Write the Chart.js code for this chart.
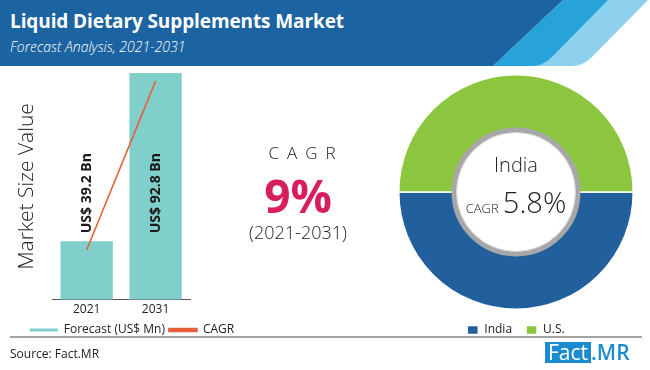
<!DOCTYPE html>
<html>
<head>
<meta charset="utf-8">
<script src="https://cdn.jsdelivr.net/npm/chart.js@4.4.0/dist/chart.umd.min.js"></script>
<style>
  html, body { margin: 0; padding: 0; background: #fff; }
  body { width: 650px; height: 370px; position: relative; overflow: hidden; font-family: "Open Sans", sans-serif; }
  #head { position: absolute; left: 0; top: 0; }
  .title { position: absolute; left: 10px; top: 8px; color: #fff; font: bold 19px "Open Sans", sans-serif; letter-spacing: -0.1px; }
  .subtitle { position: absolute; left: 10px; top: 37px; color: #fff; font: italic 300 14px "Open Sans", sans-serif; }
  #barBox { position: absolute; left: 0; top: 66px; width: 250px; height: 280px; }
  #pieBox { position: absolute; left: 396px; top: 74px; width: 240px; height: 272px; }
  .mid { position: absolute; left: 200px; width: 196px; text-align: center; color: #222; }
  .rule { position: absolute; left: 10px; top: 336px; width: 632px; height: 2px; background: #a3a3a3; }
  .source { position: absolute; left: 10px; top: 345px; font: 12px "Open Sans", sans-serif; color: #222; }
  .logo { position: absolute; left: 545px; top: 342px; height: 21px; font: 21px "Open Sans", sans-serif; line-height: 21px; }
  .logo .f { background: #1d8ccf; color: #fff; padding: 0 3px; display: inline-block; }
  .logo .m { color: #1d8ccf; font-weight: 600; }
  .inner { position: absolute; left: 456px; width: 120px; text-align: center; color: #222; }
</style>
</head>
<body>
<svg id="head" width="650" height="66">
  <path d="M600,0 L648,0 L592,57 Q583,66 572,66 L493,66 Z" fill="#8dd1ee"/>
  <path d="M563,0 L608,0 L552,57 Q543,66 532,66 L493,66 Z" fill="#27a3d9"/>
  <path d="M0,0 L563,0 L493,66 L0,66 Z" fill="#1c63a2"/>
</svg>
<div class="title">Liquid Dietary Supplements Market</div>
<div class="subtitle">Forecast Analysis, 2021-2031</div>

<div class="rule"></div>
<div id="barBox"><canvas id="barChart"></canvas></div>

<div class="mid" style="top:141px; font:300 17px 'Open Sans',sans-serif; letter-spacing:8px; padding-left:8px;">CAGR</div>
<div class="mid" style="top:164px; font:bold 46px 'Open Sans',sans-serif; color:#d71f5f;">9%</div>
<div class="mid" style="top:220px; font:300 18px 'Open Sans',sans-serif;">(2021-2031)</div>

<div id="pieBox"><canvas id="pieChart"></canvas></div>
<div class="inner" style="top:151px; font:300 20px 'Open Sans',sans-serif;">India</div>
<div class="inner" style="top:182px; white-space:nowrap;"><span style="font:300 13px 'Open Sans',sans-serif;">CAGR</span> <span style="font:300 29px 'Open Sans',sans-serif;">5.8%</span></div>

<div class="source">Source: Fact.MR</div>
<div class="logo"><span class="f">Fact</span><span class="m">.MR</span></div>

<script>
// datos del gráfico de barras
const years = ['2021', '2031'];
const marketSize = [39.2, 92.8];          // US$ Bn
const marketLabels = ['US$ 39.2 Bn', 'US$ 92.8 Bn'];
const cagrLine = [36.4, 90.2];            // trazo de la línea CAGR

// datos del gráfico de anillo
const regions = ['India', 'U.S.'];
const regionShare = [50, 50];

// etiquetas verticales encima de las barras
const barLabelPlugin = {
  id: 'barLabels',
  afterDatasetsDraw(chart) {
    const meta = chart.getDatasetMeta(1);
    const ctx = chart.ctx;
    const base = meta.data[0].y - 8;
    ctx.save();
    ctx.font = 'bold 14px "Open Sans", sans-serif';
    ctx.fillStyle = '#1a1a1a';
    ctx.textAlign = 'left';
    ctx.textBaseline = 'middle';
    meta.data.forEach((bar, i) => {
      ctx.save();
      ctx.translate(bar.x, base);
      ctx.rotate(-Math.PI / 2);
      ctx.fillText(marketLabels[i], 0, 0);
      ctx.restore();
    });
    ctx.restore();
  }
};

new Chart(document.getElementById('barChart'), {
  data: {
    labels: years,
    datasets: [{
      type: 'line',
      label: 'CAGR',
      data: cagrLine,
      borderColor: '#e5603b',
      backgroundColor: '#e5603b',
      borderWidth: 1.6,
      pointRadius: 0,
      order: 0
    }, {
      type: 'bar',
      label: 'Forecast (US$ Mn)',
      data: marketSize,
      backgroundColor: '#80cfcb',
      barPercentage: 0.76,
      categoryPercentage: 1,
      order: 1
    }]
  },
  options: {
    responsive: true,
    maintainAspectRatio: false,
    animation: false,
    layout: { padding: { top: 7, right: 0, left: 14, bottom: 0 } },
    plugins: {
      legend: {
        position: 'bottom',
        reverse: true,
        labels: {
          boxWidth: 28,
          boxHeight: 3,
          padding: 4,
          color: '#222',
          font: { size: 12, family: 'Open Sans' }
        }
      },
      tooltip: { enabled: false }
    },
    scales: {
      x: {
        grid: { display: false, drawTicks: false },
        border: { color: '#555', width: 1 },
        ticks: { color: '#222', font: { size: 12, family: 'Open Sans' }, padding: 3 }
      },
      y: {
        min: 20.6,
        max: 92.8,
        grid: { display: false },
        border: { display: false },
        ticks: { display: false },
        title: {
          display: true,
          text: 'Market Size Value',
          color: '#222',
          font: { size: 21, family: 'Open Sans', weight: '300' },
          padding: { top: 0, bottom: 5 }
        }
      },
      // eje vacío a la derecha para estrechar el área de barras
      yr: {
        position: 'right',
        grid: { display: false },
        border: { display: false },
        ticks: { display: false },
        afterFit(scale) { scale.width = 60; }
      }
    }
  },
  plugins: [barLabelPlugin]
});

// anillo gris alrededor del centro blanco
const ringPlugin = {
  id: 'ring',
  afterDatasetsDraw(chart) {
    const arc = chart.getDatasetMeta(0).data[0];
    const ctx = chart.ctx;
    ctx.save();
    ctx.beginPath();
    ctx.arc(arc.x, arc.y, arc.innerRadius + 1, 0, Math.PI * 2);
    ctx.strokeStyle = '#a8a8a8';
    ctx.lineWidth = 5;
    ctx.stroke();
    ctx.beginPath();
    ctx.arc(arc.x, arc.y, arc.innerRadius - 1.5, 0, Math.PI * 2);
    ctx.strokeStyle = '#d4d4d4';
    ctx.lineWidth = 1;
    ctx.stroke();
    ctx.restore();
  }
};

new Chart(document.getElementById('pieChart'), {
  type: 'doughnut',
  data: {
    labels: regions,
    datasets: [{
      data: regionShare,
      backgroundColor: ['#22609d', '#8cc63f'],
      borderColor: '#ffffff',
      borderWidth: 1.5
    }]
  },
  options: {
    responsive: true,
    maintainAspectRatio: false,
    animation: false,
    rotation: 90,
    cutout: '52%',
    layout: { padding: 0 },
    plugins: {
      legend: {
        position: 'bottom',
        labels: {
          boxWidth: 11,
          boxHeight: 9,
          padding: 14,
          color: '#222',
          font: { size: 12, family: 'Open Sans' }
        }
      },
      tooltip: { enabled: false }
    }
  },
  plugins: [ringPlugin]
});
</script>
</body>
</html>
